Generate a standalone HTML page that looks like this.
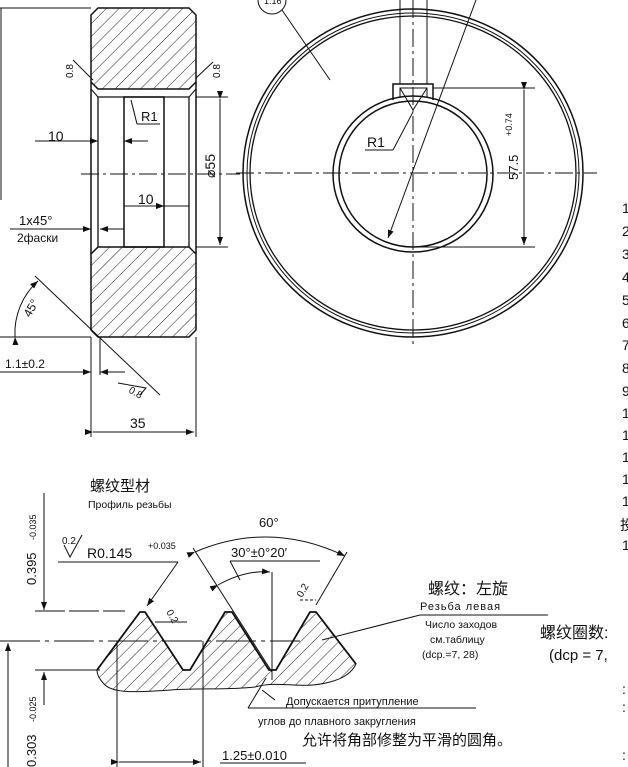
<!DOCTYPE html>
<html><head><meta charset="utf-8"><style>
body{margin:0;background:#fff;width:628px;height:767px;overflow:hidden}
svg{display:block}
text{font-family:"Liberation Sans","Noto Sans CJK SC",sans-serif;fill:#111}
.cj{font-family:"Liberation Sans","Noto Sans CJK SC",sans-serif}
</style></head><body>
<svg width="628" height="767" viewBox="0 0 628 767" xmlns="http://www.w3.org/2000/svg">
<defs>
<pattern id="h" width="9" height="9" patternUnits="userSpaceOnUse" patternTransform="rotate(45)">
<line x1="0" y1="0" x2="0" y2="9" stroke="#222" stroke-width="1"/></pattern>
<marker id="a" markerWidth="8" markerHeight="6" refX="8" refY="3" orient="auto"><path d="M0,0 L8,3 L0,6z" fill="#111"/></marker>
</defs>
<g stroke="#111" fill="none" stroke-width="1">
<!-- left section view -->
<path d="M98,8 L189,8 L196,15 L196,82 L189,89 L98,89 L91,82 L91,15Z" fill="url(#h)" stroke-width="1.5"/>
<path d="M98,247 L189,247 L196,254 L196,330 L189,337 L98,337 L91,330 L91,254Z" fill="url(#h)" stroke-width="1.5"/>
<line x1="91" y1="82" x2="91" y2="254" stroke-width="1.5"/>
<line x1="196" y1="82" x2="196" y2="254" stroke-width="1.5"/>
<line x1="98" y1="97" x2="98" y2="247" stroke-width="1.3"/>
<line x1="189" y1="97" x2="189" y2="247" stroke-width="1.3"/>
<line x1="91" y1="89" x2="98" y2="97"/><line x1="196" y1="89" x2="189" y2="97"/>
<line x1="98" y1="97" x2="189" y2="97" stroke-width="1.3"/>
<rect x="124" y="97" width="40" height="150" stroke-width="1.5"/>
<line x1="81" y1="174" x2="240" y2="174" stroke-dasharray="18,4,3,4"/>
<line x1="0" y1="8" x2="91" y2="8"/>
<line x1="1" y1="8" x2="1" y2="200"/>
<line x1="196" y1="97" x2="228" y2="97"/><line x1="196" y1="247" x2="228" y2="247"/>
<line x1="220" y1="99" x2="220" y2="245" marker-start="url(#a)" marker-end="url(#a)"/>
<line x1="35" y1="141" x2="98" y2="141" marker-end="url(#a)"/><line x1="148" y1="141" x2="124" y2="141" marker-end="url(#a)"/>
<line x1="124" y1="206" x2="164" y2="206" marker-end="url(#a)"/><line x1="164" y1="206" x2="189" y2="206" marker-start="url(#a)"/>
<line x1="10" y1="229" x2="91" y2="229" marker-end="url(#a)"/><line x1="124" y1="229" x2="100" y2="229" marker-end="url(#a)"/>
<line x1="131" y1="100" x2="137" y2="124"/><line x1="137" y1="124" x2="160" y2="124"/>
<line x1="35" y1="276" x2="160" y2="395"/>
<path d="M15,337 A70,70 0 0 1 38,281" marker-start="url(#a)" marker-end="url(#a)"/>
<line x1="0" y1="337" x2="91" y2="337"/>
<line x1="91" y1="337" x2="91" y2="437"/><line x1="100" y1="337" x2="100" y2="375"/>
<line x1="196" y1="337" x2="196" y2="437"/>
<line x1="0" y1="372" x2="91" y2="372" marker-end="url(#a)"/><line x1="125" y1="372" x2="100" y2="372" marker-end="url(#a)"/>
<line x1="93" y1="432" x2="194" y2="432" marker-start="url(#a)" marker-end="url(#a)"/>
<line x1="73" y1="60" x2="93" y2="80"/><line x1="213" y1="62" x2="196" y2="78"/>
<path d="M118,383 L146,388 L140,395"/>
<!-- right circle view -->
<ellipse cx="413" cy="173" rx="170" ry="164" stroke-width="1.5"/>
<ellipse cx="413" cy="173" rx="166" ry="160"/>
<ellipse cx="413" cy="173" rx="163" ry="157" stroke-width="1.3"/>
<ellipse cx="413" cy="174" rx="80" ry="78" stroke-width="1.5"/>
<ellipse cx="413" cy="174" rx="74" ry="73" stroke-width="1.5"/>
<path d="M393,100 L393,84 L433,84 L433,100" stroke-width="1.5"/>
<path d="M400,98 L400,88 L427,88 L427,98" />
<line x1="400" y1="0" x2="400" y2="84"/><line x1="427" y1="0" x2="427" y2="84"/>
<path d="M400,88 L413,110 L427,88"/>
<line x1="413" y1="0" x2="413" y2="345" stroke-dasharray="18,4,3,4"/>
<line x1="236" y1="173" x2="597" y2="173" stroke-dasharray="18,4,3,4"/>
<line x1="433" y1="88" x2="535" y2="88"/><line x1="413" y1="247" x2="535" y2="247"/>
<line x1="524" y1="90" x2="524" y2="245" marker-start="url(#a)" marker-end="url(#a)"/>
<line x1="476" y1="0" x2="388" y2="238" marker-end="url(#a)"/>
<line x1="413" y1="112" x2="393" y2="150"/><line x1="393" y1="150" x2="365" y2="150"/>
<circle cx="272" cy="0" r="14"/>
<line x1="282" y1="10" x2="330" y2="80"/>
<!-- thread profile -->
<line x1="44" y1="493" x2="44" y2="610" marker-end="url(#a)"/>
<line x1="44" y1="705" x2="44" y2="672" marker-end="url(#a)"/>
<line x1="8" y1="767" x2="8" y2="643" marker-end="url(#a)"/>
<line x1="35" y1="611" x2="125" y2="611" stroke-dasharray="30,4"/>
<line x1="0" y1="641" x2="300" y2="641" stroke-dasharray="40,5,4,5"/>
<line x1="35" y1="670" x2="100" y2="670"/>
<path d="M97,670 L140,612 L145,612 L183,670 L190,670 L225,612 L232,612 L269,670 L276,670 L310,612 L316,612 L356,664 C352,672 345,678 330,682 C300,690 280,680 255,687 C230,690 200,688 170,690 C140,692 115,694 105,685 C100,680 97,675 97,670Z" fill="url(#h)"/>
<path d="M97,670 L140,612 L145,612 L183,670 L190,670 L225,612 L232,612 L269,670 L276,670 L310,612 L316,612 L356,664" stroke-width="1.8"/>
<line x1="117" y1="641" x2="117" y2="767"/><line x1="203" y1="641" x2="203" y2="767"/>
<line x1="119" y1="762" x2="201" y2="762" marker-start="url(#a)" marker-end="url(#a)"/>
<line x1="220" y1="763" x2="306" y2="763"/>
<line x1="58" y1="562" x2="178" y2="562"/><line x1="178" y1="562" x2="147" y2="606" marker-end="url(#a)"/>
<path d="M64,545 L70,557 L82,535"/>
<line x1="193" y1="548" x2="272" y2="672"/><line x1="347" y1="552" x2="316" y2="605"/>
<path d="M195,552 Q270,520 345,556" marker-start="url(#a)" marker-end="url(#a)"/>
<line x1="272" y1="572" x2="272" y2="680"/>
<line x1="230" y1="561" x2="320" y2="561"/><line x1="230" y1="561" x2="240" y2="580"/>
<path d="M218,585 Q245,570 270,572" marker-start="url(#a)" marker-end="url(#a)"/>
<line x1="155" y1="622" x2="187" y2="622"/>
<line x1="300" y1="600" x2="316" y2="600" stroke-dasharray="3,2"/>
<line x1="420" y1="615" x2="548" y2="615"/><line x1="420" y1="615" x2="322" y2="640"/>
<line x1="248" y1="708" x2="476" y2="708"/><line x1="248" y1="708" x2="266" y2="678"/>
<line x1="262" y1="690" x2="275" y2="700"/>
</g>
<!-- texts -->
<g font-size="13">
<text x="48" y="141" font-size="14">10</text>
<text x="138" y="204" font-size="14">10</text>
<text x="141" y="121" font-size="13">R1</text>
<text x="19" y="225" font-size="13">1x45°</text>
<text x="17" y="242" font-size="12">2фаски</text>
<text x="5" y="368" font-size="12">1.1±0.2</text>
<text x="130" y="428" font-size="14">35</text>
<text transform="translate(215,178) rotate(-90)" font-size="14">⌀55</text>
<text transform="translate(73,78) rotate(-90)" font-size="10">0.8</text>
<text transform="translate(220,78) rotate(-90)" font-size="10">0.8</text>
<text transform="translate(128,392) rotate(30)" font-size="10">0.8</text>
<text transform="translate(30,318) rotate(-60)" font-size="12">45°</text>
<text x="264" y="4" font-size="9">1.16</text>
<text x="367" y="147" font-size="14">R1</text>
<text transform="translate(518,180) rotate(-90)" font-size="13">57.5</text>
<text transform="translate(512,136) rotate(-90)" font-size="9">+0.74</text>
</g>
<g font-size="14" fill="#111">
<text x="622" y="213">1</text><text x="622" y="236">2</text><text x="622" y="259">3</text><text x="622" y="282">4</text><text x="622" y="305">5</text><text x="622" y="328">6</text><text x="622" y="350">7</text><text x="622" y="373">8</text><text x="622" y="396">9</text><text x="622" y="418">1</text><text x="622" y="440">1</text><text x="622" y="462">1</text><text x="622" y="484">1</text><text x="622" y="506">1</text><text x="620" y="530" class="cj">投</text><text x="622" y="550">1</text>
<text x="622" y="694">:</text><text x="622" y="712">:</text><text x="622" y="760">:</text>
</g>
<text x="90" y="491" font-size="15" class="cj">螺纹型材</text>
<text x="88" y="508" font-size="10.5">Профиль резьбы</text>
<text transform="translate(36,585) rotate(-90)" font-size="13">0.395</text>
<text transform="translate(36,540) rotate(-90)" font-size="9">-0.035</text>
<text transform="translate(36,767) rotate(-90)" font-size="13">0.303</text>
<text transform="translate(36,722) rotate(-90)" font-size="9">-0.025</text>
<text x="62" y="544" font-size="10">0.2</text>
<text x="87" y="558" font-size="14">R0.145</text>
<text x="148" y="549" font-size="9">+0.035</text>
<text x="259" y="527" font-size="13">60°</text>
<text x="231" y="557" font-size="13">30°±0°20′</text>
<text transform="translate(166,612) rotate(60)" font-size="10">0.2</text>
<text transform="translate(302,598) rotate(-60)" font-size="10">0.2</text>
<text x="428" y="594" font-size="16" class="cj">螺纹：左旋</text>
<text x="420" y="610" font-size="11" letter-spacing="1">Резьба левая</text>
<text x="425" y="628" font-size="10.5">Число заходов</text>
<text x="430" y="643" font-size="10.5">см.таблицу</text>
<text x="422" y="658" font-size="10.5">(dcp.=7, 28)</text>
<text x="540" y="638" font-size="16" class="cj">螺纹圈数:</text>
<text x="549" y="660" font-size="15">(dcp = 7,</text>
<text x="286" y="705" font-size="11">Допускается притупление</text>
<text x="258" y="725" font-size="11">углов до плавного закругления</text>
<text x="302" y="745" font-size="15" class="cj">允许将角部修整为平滑的圆角。</text>
<text x="222" y="760" font-size="13">1.25±0.010</text>
</svg>
</body></html>
